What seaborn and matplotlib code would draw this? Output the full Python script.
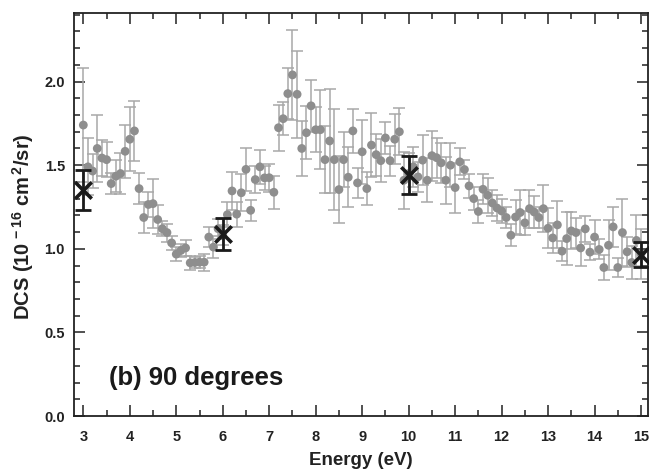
import numpy as np
import pandas as pd
import matplotlib
matplotlib.use("Agg")
import matplotlib.pyplot as plt
from matplotlib.ticker import MultipleLocator
import seaborn as sns

# ---- data ----
energy = [3.0, 3.1, 3.2, 3.3, 3.4, 3.5, 3.6, 3.7, 3.8, 3.9,
          4.0, 4.1, 4.2, 4.3, 4.4, 4.5, 4.6, 4.7, 4.8, 4.9,
          5.0, 5.1, 5.2, 5.3, 5.4, 5.5, 5.6, 5.7, 5.8, 5.9,
          6.0, 6.1, 6.2, 6.3, 6.4, 6.5, 6.6, 6.7, 6.8, 6.9,
          7.0, 7.1, 7.2, 7.3, 7.4, 7.5, 7.6, 7.7, 7.8, 7.9,
          8.0, 8.1, 8.2, 8.3, 8.4, 8.5, 8.6, 8.7, 8.8, 8.9,
          9.0, 9.1, 9.2, 9.3, 9.4, 9.5, 9.6, 9.7, 9.8, 9.9,
          10.0, 10.1, 10.2, 10.3, 10.4, 10.5, 10.6, 10.7, 10.8, 10.9,
          11.0, 11.1, 11.2, 11.3, 11.4, 11.5, 11.6, 11.7, 11.8, 11.9,
          12.0, 12.1, 12.2, 12.3, 12.4, 12.5, 12.6, 12.7, 12.8, 12.9,
          13.0, 13.1, 13.2, 13.3, 13.4, 13.5, 13.6, 13.7, 13.8, 13.9,
          14.0, 14.1, 14.2, 14.3, 14.4, 14.5, 14.6, 14.7, 14.8, 14.9,
          15.0]
dcs = [1.74, 1.49, 1.465, 1.60, 1.543, 1.533, 1.39, 1.434, 1.45, 1.583,
       1.655, 1.705, 1.36, 1.187, 1.265, 1.27, 1.175, 1.12, 1.097, 1.035,
       0.968, 0.99, 1.005, 0.916, 0.918, 0.92, 0.92, 1.07, 1.01, 1.12,
       1.08, 1.204, 1.346, 1.207, 1.335, 1.475, 1.23, 1.414, 1.49, 1.424,
       1.425, 1.338, 1.724, 1.778, 1.928, 2.04, 1.924, 1.60, 1.694, 1.855,
       1.712, 1.712, 1.533, 1.645, 1.533, 1.354, 1.533, 1.428, 1.705, 1.394,
       1.58, 1.36, 1.62, 1.563, 1.527, 1.663, 1.527, 1.655, 1.70, 1.41,
       1.45, 1.49, 1.43, 1.53, 1.41, 1.557, 1.545, 1.514, 1.41, 1.50,
       1.366, 1.52, 1.474, 1.376, 1.30, 1.223, 1.356, 1.32, 1.274, 1.244,
       1.226, 1.187, 1.081, 1.19, 1.217, 1.155, 1.24, 1.22, 1.187, 1.24,
       1.123, 1.065, 1.143, 0.986, 1.061, 1.107, 1.097, 1.005, 1.119, 0.98,
       1.07, 0.996, 0.888, 1.021, 1.131, 0.888, 1.097, 0.982, 0.918, 1.05,
       0.97]
dcs_err = [0.34, 0.17, 0.10, 0.20, 0.11, 0.105, 0.064, 0.096, 0.12, 0.16,
           0.19, 0.18, 0.094, 0.09, 0.076, 0.145, 0.086, 0.046, 0.054, 0.04,
           0.044, 0.04, 0.05, 0.04, 0.035, 0.035, 0.05, 0.058, 0.066, 0.06,
           0.06, 0.076, 0.114, 0.074, 0.11, 0.13, 0.064, 0.08, 0.10, 0.07,
           0.084, 0.10, 0.137, 0.10, 0.153, 0.27, 0.26, 0.163, 0.16, 0.157,
           0.136, 0.235, 0.20, 0.31, 0.30, 0.20, 0.165, 0.18, 0.13, 0.09,
           0.19, 0.10, 0.19, 0.125, 0.13, 0.094, 0.09, 0.15, 0.14, 0.17,
           0.12, 0.12, 0.09, 0.15, 0.13, 0.15, 0.12, 0.12, 0.14, 0.13,
           0.15, 0.08, 0.056, 0.07, 0.07, 0.066, 0.09, 0.105, 0.076, 0.08,
           0.07, 0.06, 0.066, 0.10, 0.137, 0.07, 0.113, 0.094, 0.06, 0.14,
           0.12, 0.09, 0.14, 0.06, 0.16, 0.11, 0.09, 0.11, 0.08, 0.05,
           0.10, 0.06, 0.076, 0.15, 0.12, 0.056, 0.20, 0.09, 0.10, 0.15,
           0.15]

ref_energy = [3.0, 6.0, 10.0, 15.0]
ref_dcs = [1.35, 1.09, 1.44, 0.965]
ref_err = [0.12, 0.095, 0.113, 0.075]

x_ticks = [3, 4, 5, 6, 7, 8, 9, 10, 11, 12, 13, 14, 15]
y_ticks = [0.0, 0.5, 1.0, 1.5, 2.0]

df = pd.DataFrame({"energy": energy, "dcs": dcs, "err": dcs_err})
dref = pd.DataFrame({"energy": ref_energy, "dcs": ref_dcs, "err": ref_err})

sns.set_style("ticks")
plt.rcParams["font.family"] = ["Liberation Sans", "DejaVu Sans"]
plt.rcParams["mathtext.fontset"] = "custom"
plt.rcParams["mathtext.rm"] = "Liberation Sans:bold"
plt.rcParams["mathtext.it"] = "Liberation Sans:bold"
plt.rcParams["mathtext.bf"] = "Liberation Sans:bold"

fig = plt.figure(figsize=(6.51, 4.73), dpi=100)
ax = fig.add_axes([0.1137, 0.1205, 0.8817, 0.852])

# gray measured points with error bars
ax.errorbar(df["energy"], df["dcs"], yerr=df["err"], fmt="none",
            ecolor="#a8a8a8", elinewidth=1.1, capsize=4, capthick=1.1, zorder=2)
sns.scatterplot(data=df, x="energy", y="dcs", ax=ax, color="#8e8e8e",
                s=40, edgecolor="none", linewidth=0, zorder=3, legend=False)

# black reference points
ax.errorbar(dref["energy"], dref["dcs"], yerr=dref["err"], fmt="none",
            ecolor="#1a1a1a", elinewidth=2.0, capsize=5.5, capthick=2.0, zorder=4)
sns.scatterplot(data=dref, x="energy", y="dcs", ax=ax, marker="x", color="#1a1a1a",
                s=140, linewidth=2.6, zorder=5, legend=False)

ax.set_xlim(2.8, 15.15)
ax.set_ylim(0.0, 2.41)
ax.set_xticks(x_ticks)
ax.set_yticks(y_ticks)
ax.set_yticklabels([f"{v:.1f}" for v in y_ticks])
ax.xaxis.set_minor_locator(MultipleLocator(0.5))
ax.yaxis.set_minor_locator(MultipleLocator(0.1))
ax.tick_params(which="both", direction="in", top=True, right=True, width=1.1,
               color="#222222")
ax.tick_params(which="major", length=8, labelsize=10.5)
ax.tick_params(axis="x", which="major", pad=10)
ax.tick_params(axis="y", which="major", pad=6.5)
ax.tick_params(which="minor", length=4)
for lab in ax.get_xticklabels() + ax.get_yticklabels():
    lab.set_fontweight("bold")
    lab.set_color("#222222")
for sp in ax.spines.values():
    sp.set_linewidth(1.3)
    sp.set_color("#222222")

ax.set_xlabel("Energy (eV)", fontsize=13.5, fontweight="bold", color="#222222", labelpad=6)
ax.set_ylabel(r"DCS (10$^{\,-16}$ cm$^{\,2}$/sr)", fontsize=14.5, fontweight="bold",
              color="#222222")
ax.yaxis.set_label_coords(-0.066, 0.47)

ax.text(3.55, 0.23, "(b) 90 degrees", fontsize=18.5, fontweight="bold",
        color="#1a1a1a", va="center", ha="left")

fig.savefig("out.png", dpi=100)
